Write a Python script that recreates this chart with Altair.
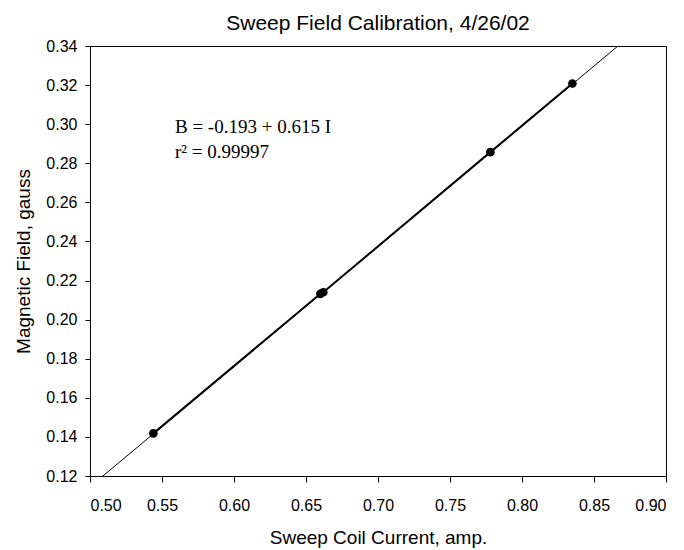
import altair as alt
import pandas as pd

# data points
current = [0.544, 0.660, 0.662, 0.778, 0.835]
field = [0.1418, 0.2132, 0.2140, 0.2857, 0.3208]

# fitted line coefficients (from annotation)
intercept = [-0.193]
slope = [0.615]
fit_x = [0.50, 0.90]

x_ticks = [0.50, 0.55, 0.60, 0.65, 0.70, 0.75, 0.80, 0.85, 0.90]
y_ticks = [0.12, 0.14, 0.16, 0.18, 0.20, 0.22, 0.24, 0.26, 0.28, 0.30, 0.32, 0.34]

eq_lines = ["B = -0.193 + 0.615 I", "r\u00b2 = 0.99997"]
eq_x = [0.559, 0.559]
eq_y = [0.2955, 0.2827]

pts = pd.DataFrame({"I": current, "B": field})
fit = pd.DataFrame({"I": fit_x, "B": [intercept[0] + slope[0] * v for v in fit_x]})
ann = pd.DataFrame({"t": eq_lines, "I": eq_x, "B": eq_y})

xs = alt.Scale(domain=[0.5, 0.9], nice=False, zero=False)
ys = alt.Scale(domain=[0.12, 0.34], nice=False, zero=False)

xaxis = alt.Axis(values=x_ticks, format=".2f", grid=False, tickSize=6, labelPadding=15,
                 labelFontSize=16, titleFontSize=19, titlePadding=15, labelOverlap=False,
                 domainColor="black", tickColor="black", labelColor="black", titleColor="black",
                 labelFont="Liberation Sans", titleFont="Liberation Sans", titleFontWeight="normal")
yaxis = alt.Axis(values=y_ticks, format=".2f", grid=False, tickSize=5, labelPadding=8,
                 labelFontSize=16, titleFontSize=19, titlePadding=12, labelOverlap=False,
                 domainColor="black", tickColor="black", labelColor="black", titleColor="black",
                 labelFont="Liberation Sans", titleFont="Liberation Sans", titleFontWeight="normal")

base_x = alt.X("I:Q", scale=xs, axis=xaxis, title="Sweep Coil Current, amp.")
base_y = alt.Y("B:Q", scale=ys, axis=yaxis, title="Magnetic Field, gauss")

fit_line = alt.Chart(fit).mark_line(color="black", strokeWidth=1, clip=True).encode(x=base_x, y=base_y)
data_line = alt.Chart(pts).mark_line(color="black", strokeWidth=2).encode(x=base_x, y=base_y, order="I:Q")
points = alt.Chart(pts).mark_circle(color="black", size=75, opacity=1).encode(x=base_x, y=base_y)
text = alt.Chart(ann).mark_text(align="left", baseline="alphabetic", font="Liberation Serif",
                                fontSize=19, color="black").encode(x=base_x, y=base_y, text="t:N")

chart = alt.layer(fit_line, data_line, points, text).properties(
    width=576, height=430,
    title=alt.TitleParams("Sweep Field Calibration, 4/26/02", font="Liberation Sans", fontSize=21,
                          fontWeight="normal", color="black", anchor="middle", offset=4),
    autosize=alt.AutoSizeParams(type="none"),
    padding={"left": 82, "top": 38, "right": 10, "bottom": 80},
).configure_view(stroke="black", strokeWidth=1)

chart.save("out.html", embed_options={"renderer": "svg", "actions": False})
